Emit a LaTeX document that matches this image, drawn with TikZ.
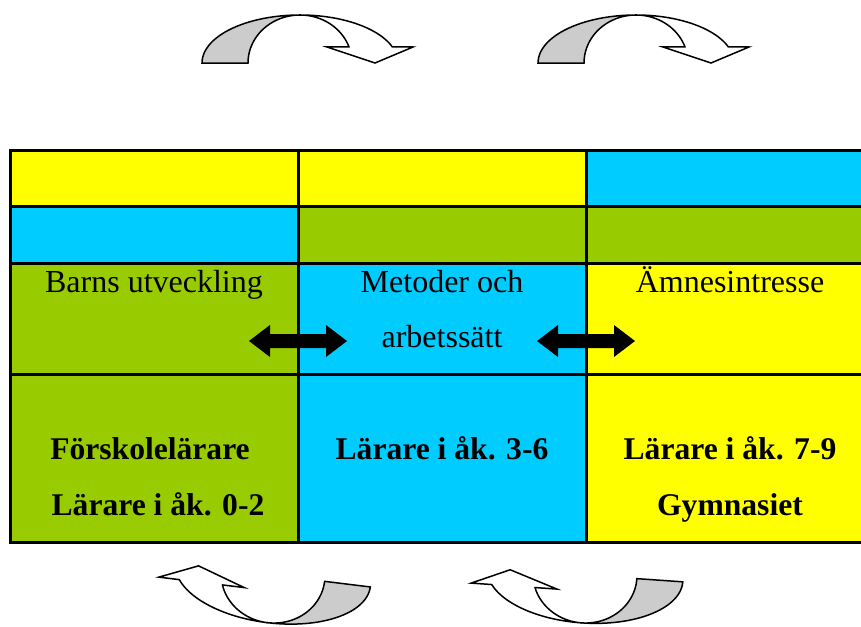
\documentclass[tikz,border=0pt]{standalone}
\usepackage{fontspec}
\setmainfont{Liberation Serif}
\usepackage{xcolor}
\usepackage{tikz}
\usetikzlibrary{positioning}

\definecolor{ylw}{HTML}{FFFF00}
\definecolor{sky}{HTML}{00CCFF}
\definecolor{lime}{HTML}{99CC00}

\tikzset{
    cell/.style={draw, line width=3pt, inner sep=0pt, outer sep=0pt, anchor=north west, minimum width=288pt},
    lbl/.style={anchor=base, font=\fontsize{32}{38}\selectfont},
    blbl/.style={lbl, font=\fontsize{31.6}{38}\selectfont\bfseries},
    % bent arrow: grey back half, white front half with its head
    bentarrow/.pic={
        \filldraw[fill=gray!40, line width=1.5pt]
            plot[domain=180:270, samples=30, variable=\t] ({98*cos(\t)}, {48*sin(\t)})
            -- plot[domain=270:180, samples=30, variable=\t] ({52*cos(\t)}, {48*sin(\t)}) -- cycle;
        \filldraw[fill=white, line width=1.5pt, line join=miter]
            plot[domain=270:340.5, samples=30, variable=\t] ({98*cos(\t)}, {48*sin(\t)})
            -- (113,-16) -- (75,0) -- (27,-16) -- (49,-16)
            -- plot[domain=340.5:270, samples=30, variable=\t] ({52*cos(\t)}, {48*sin(\t)}) -- cycle;
    },
    twoway/.pic={
        \fill (-49,0) -- (-28,-16) -- (-28,-7) -- (28,-7) -- (28,-16) -- (49,0)
            -- (28,16) -- (28,7) -- (-28,7) -- (-28,16) -- cycle;
    }
}

\begin{document}
\begin{tikzpicture}[x=1pt, y=-1pt]
    \clip (0,0) rectangle (861,626);

    % top two rows
    \node[cell, fill=ylw, minimum height=56pt] (c11) at (10,150) {};
    \node[cell, fill=ylw, minimum height=56pt] (c12) at (298,150) {};
    \node[cell, fill=sky, minimum height=56pt] (c13) at (586,150) {};
    \node[cell, fill=sky, minimum height=57pt] (c21) at (10,206) {};
    \node[cell, fill=lime, minimum height=57pt] (c22) at (298,206) {};
    \node[cell, fill=lime, minimum height=57pt] (c23) at (586,206) {};
    % interest row
    \node[cell, fill=lime, minimum height=111pt] (c31) at (10,263) {};
    \node[cell, fill=sky, minimum height=111pt] (c32) at (298,263) {};
    \node[cell, fill=ylw, minimum height=111pt] (c33) at (586,263) {};
    % teacher row
    \node[cell, fill=lime, minimum height=168pt] (c41) at (10,374) {};
    \node[cell, fill=sky, minimum height=168pt] (c42) at (298,374) {};
    \node[cell, fill=ylw, minimum height=168pt] (c43) at (586,374) {};

    \node[lbl] (barns) at (154,292) {Barns utveckling};
    \node[lbl] (metod) at (442,292) {Metoder och};
    \node[lbl] (arbete) at (442,347) {arbetssätt};
    \node[lbl] (amne) at (730,292) {Ämnesintresse};

    \node[blbl] (forsk) at (150,459) {Förskolelärare};
    \node[blbl] (lar02) at (158,515) {Lärare i åk. 0-2};
    \node[blbl] (lar36) at (442,459) {Lärare i åk. 3-6};
    \node[blbl] (lar79) at (730,459) {Lärare i åk. 7-9};
    \node[blbl] (gymn) at (730,515) {Gymnasiet};

    \pic at (298,341) {twoway};
    \pic at (586,341) {twoway};

    \pic at (300,63) {bentarrow};
    \pic at (636,63) {bentarrow};
    \pic[rotate=173] at (273,575) {bentarrow};
    \pic[rotate=176] at (585,575) {bentarrow};
\end{tikzpicture}
\end{document}
